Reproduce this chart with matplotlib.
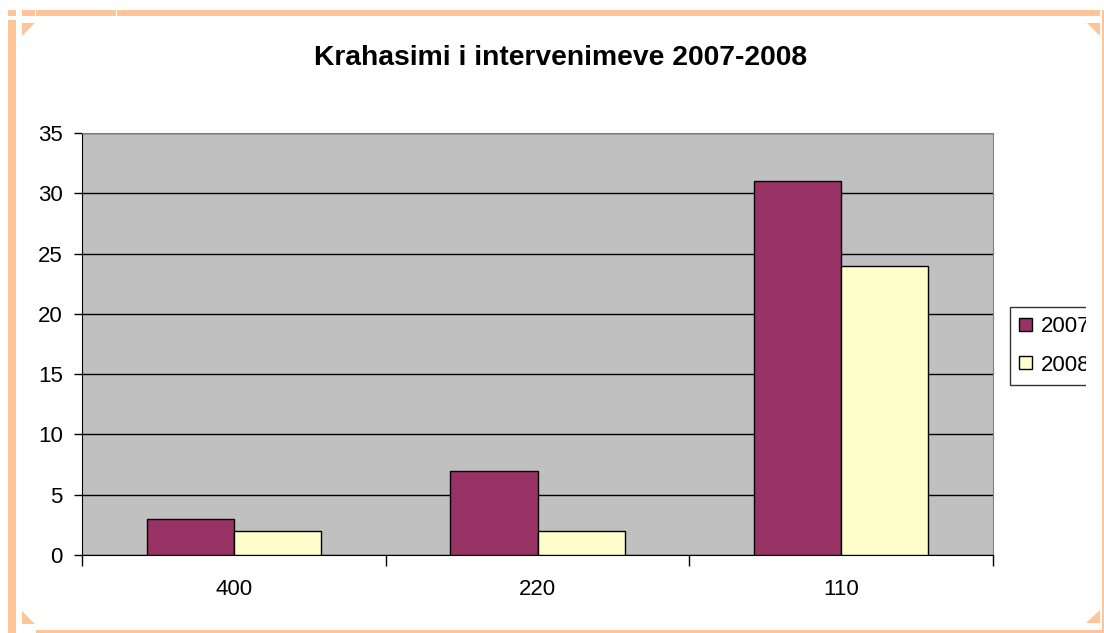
import numpy as np
import matplotlib.pyplot as plt
from matplotlib.patches import Rectangle, Polygon

categories = ['400', '220', '110']
values_2007 = [3, 7, 31]
values_2008 = [2, 2, 24]
yticks = [0, 5, 10, 15, 20, 25, 30, 35]

W, H = 1104, 633
fig = plt.figure(figsize=(W / 100, H / 100), dpi=100)
plt.rcParams['font.family'] = ['Liberation Sans', 'DejaVu Sans']

# peach frame around the chart
peach = '#FFC499'
def px_rect(x0, y0, x1, y1, **kw):
    r = Rectangle((x0 / W, 1 - y1 / H), (x1 - x0) / W, (y1 - y0) / H,
                  transform=fig.transFigure, lw=0, **kw)
    fig.add_artist(r)
def px_tri(pts):
    fig.add_artist(Polygon([(x / W, 1 - y / H) for x, y in pts], closed=True,
                           transform=fig.transFigure, lw=0, color=peach))

px_rect(8, 10, 16, 16, color=peach)
px_rect(22, 10, 35, 16, color=peach)
px_rect(36, 10, 116, 16, color=peach)
px_rect(117, 10, 1100, 16, color=peach)
px_rect(8, 20, 16, 633, color=peach)
px_rect(36, 630, 1104, 633, color=peach)
px_rect(1102, 10, 1104, 633, color=peach)
px_tri([(22, 23), (35, 23), (22, 36)])
px_tri([(1087, 23), (1100, 23), (1100, 36)])
px_tri([(22, 611), (22, 624), (35, 624)])
px_tri([(1100, 610), (1100, 623), (1086, 623)])

ax = fig.add_axes([82 / W, 1 - 555 / H, (993 - 82) / W, (555 - 133) / H])
ax.set_facecolor('#C0C0C0')

x = np.arange(len(categories))
bw = 0.287
ax.bar(x - bw / 2, values_2007, bw, color='#993366', edgecolor='black', lw=1, label='2007', zorder=3)
ax.bar(x + bw / 2, values_2008, bw, color='#FFFFCC', edgecolor='black', lw=1, label='2008', zorder=3)

ax.set_xlim(-0.5, 2.5)
ax.set_ylim(0, 35)
ax.set_yticks(yticks)
ax.yaxis.grid(True, color='black', lw=1, zorder=1)
ax.set_axisbelow(True)

ax.set_xticks([-0.5, 0.5, 1.5, 2.5])
ax.set_xticklabels([])
ax.set_xticks(x, minor=True)
ax.set_xticklabels(categories, minor=True)
ax.tick_params(axis='x', which='major', direction='out', length=8, width=1)
ax.tick_params(axis='x', which='minor', length=0, pad=17, labelsize=16)
ax.tick_params(axis='y', direction='out', length=5.8, width=1, labelsize=16, pad=8)

for s in ['top', 'right']:
    ax.spines[s].set_color('#808080')
for s in ['left', 'bottom']:
    ax.spines[s].set_color('black')

fig.text(561 / W, 1 - 58 / H, 'Krahasimi i intervenimeve 2007-2008', ha='center', va='center',
         fontsize=20.3, fontweight='bold')

leg = ax.legend(loc='upper left', bbox_to_anchor=(1010 / W, 1 - 307 / H),
                bbox_transform=fig.transFigure, fontsize=16, frameon=True, fancybox=False,
                edgecolor='black', handlelength=0.55, handleheight=0.55, handletextpad=0.4,
                borderpad=0.42, labelspacing=0.78, borderaxespad=0)
leg.get_frame().set_linewidth(1)

# the legend is cut off at the inner edge of the frame
px_rect(1086, 295, 1102, 395, color='white', zorder=10)

plt.savefig('out.png', dpi=100)
